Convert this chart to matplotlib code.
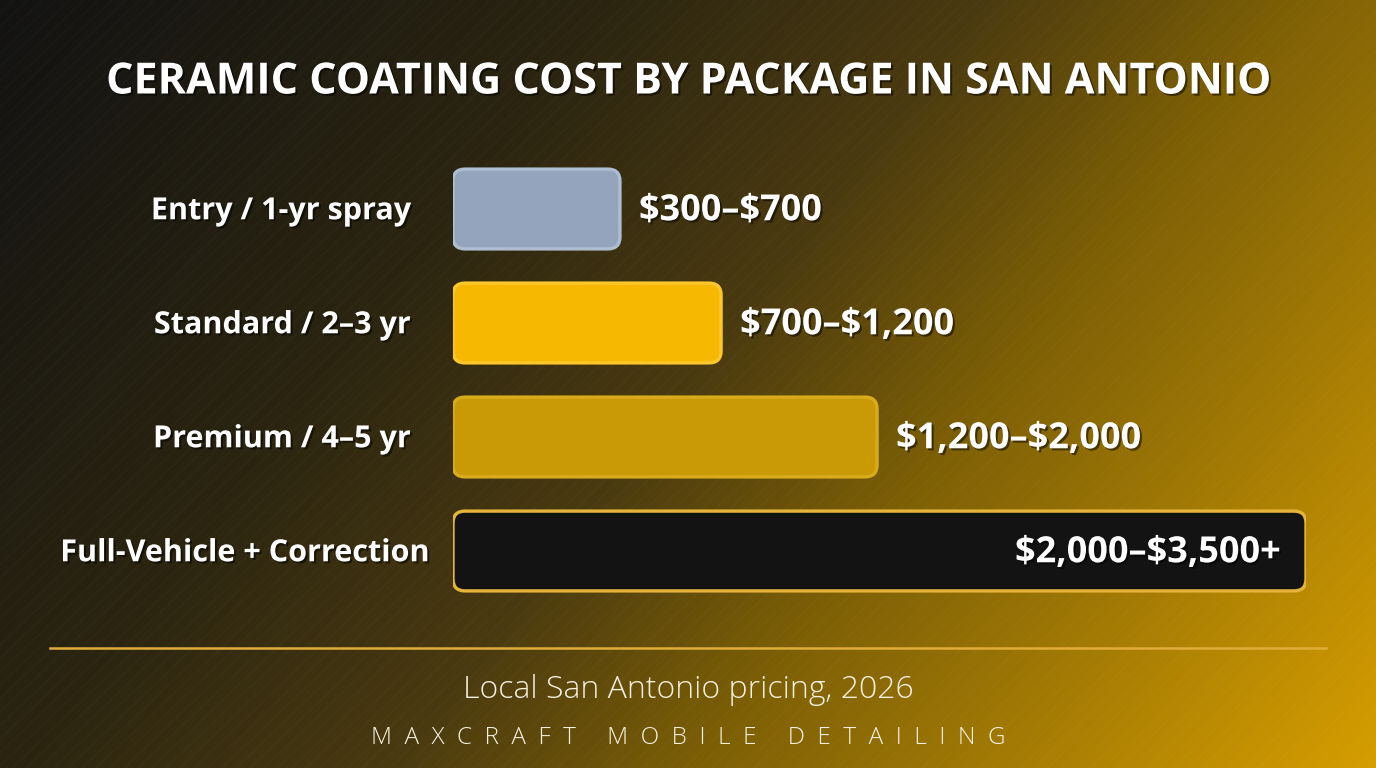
import numpy as np
import matplotlib.pyplot as plt
from matplotlib.patches import FancyBboxPatch
from matplotlib.colors import LinearSegmentedColormap
import matplotlib.patheffects as pe

plt.rcParams['text.parse_math'] = False

# Chart data
packages = ['Entry / 1-yr spray', 'Standard / 2\u20133 yr', 'Premium / 4\u20135 yr', 'Full-Vehicle + Correction']
price_labels = ['$300\u2013$700', '$700\u2013$1,200', '$1,200\u2013$2,000', '$2,000\u2013$3,500+']
bar_values = [685, 1100, 1740, 3500]   # bar lengths as drawn in the picture
fill_colors = ['#93a4bc', '#f6b800', '#c99a05', '#131313']
edge_colors = ['#aebdd0', '#fac72c', '#d8ab1c', '#e6b43a']

title = 'CERAMIC COATING COST BY PACKAGE IN SAN ANTONIO'
subtitle = 'Local San Antonio pricing, 2026'
brand = 'MAXCRAFT MOBILE DETAILING'

W, H = 1376, 768
fig = plt.figure(figsize=(W / 100, H / 100), dpi=100)

# background gradient (dark top-left to gold bottom-right)
bg = fig.add_axes([0, 0, 1, 1])
xx, yy = np.meshgrid(np.linspace(0, 1, 400), np.linspace(0, 1, 220))
t = 0.7 * xx + 0.3 * yy
cmap = LinearSegmentedColormap.from_list('bg', [
    (0.0, '#131313'), (0.3, '#2a2410'), (0.5, '#4a3a10'),
    (0.66, '#7e6005'), (0.72, '#8c6a06'), (1.0, '#d59d00')])
bg.imshow(t, cmap=cmap, extent=[0, W, H, 0], aspect='auto', interpolation='bicubic')
# faint diagonal stripes
for k in range(-800, 1400, 14):
    bg.plot([k, k + 800], [H, 0], color='white', alpha=0.018, lw=1.2)
bg.set_xlim(0, W)
bg.set_ylim(H, 0)
bg.axis('off')

# bar axes in pixel layout
x0, x1 = 453, 1306
yc_top, step = 209, 114
ax = fig.add_axes([x0 / W, 1 - (yc_top + 3.5 * step) / H, (x1 - x0) / W, 4 * step / H])
ax.set_xlim(0, bar_values[-1])
ax.set_ylim(3.5, -0.5)
ax.axis('off')
ax.patch.set_alpha(0)

xunit = bar_values[-1] / (x1 - x0)   # data per px
yunit = 1.0 / step
aspect = yunit / xunit
bh = 0.70
shadow = [pe.withSimplePatchShadow(offset=(1.5, -1.5), shadow_rgbFace='black', alpha=0.5)]
last = len(bar_values) - 1

for i, (v, fc, ec) in enumerate(zip(bar_values, fill_colors, edge_colors)):
    box = FancyBboxPatch((0, i - bh / 2), v, bh,
                         boxstyle=f'round,pad=0,rounding_size={12 * xunit}',
                         mutation_aspect=aspect, fc=fc, ec=ec, lw=2.4, zorder=3)
    ax.add_patch(box)
    if i < last:
        ax.text(v + 19 * xunit, i + 0.02, price_labels[i], ha='left', va='center',
                color='white', fontsize=26, fontweight='bold', family='Open Sans',
                path_effects=shadow)
    else:
        ax.text(v - 26 * xunit, i + 0.02, price_labels[i], ha='right', va='center',
                color='white', fontsize=26, fontweight='bold', family='Open Sans',
                path_effects=shadow, zorder=4)
    lx = -25 * xunit if i == last else -43 * xunit
    ax.text(lx, i + 0.02, packages[i], ha='right', va='center', color='white',
            fontsize=22, fontweight='bold', family='Open Sans', path_effects=shadow)

fig.text(688 / W, 1 - 82 / H, title, ha='center', va='center', color='white',
         fontsize=31, fontweight='bold', family='Open Sans', path_effects=shadow)

# footer rule and texts
bg.plot([50, 1326], [648, 648], color='#e0ad3a', lw=1.8)
fig.text(688 / W, 1 - 690 / H, subtitle, ha='center', va='center', color='#f5f0e0',
         fontsize=23, fontweight='light', family='Open Sans')
fig.text(688 / W, 1 - 738 / H, '     '.join('  '.join(w) for w in brand.split()),
         ha='center', va='center', color='#f5f0e0', fontsize=17.5,
         fontweight='light', family='Open Sans')

fig.savefig('out.png', dpi=100)
